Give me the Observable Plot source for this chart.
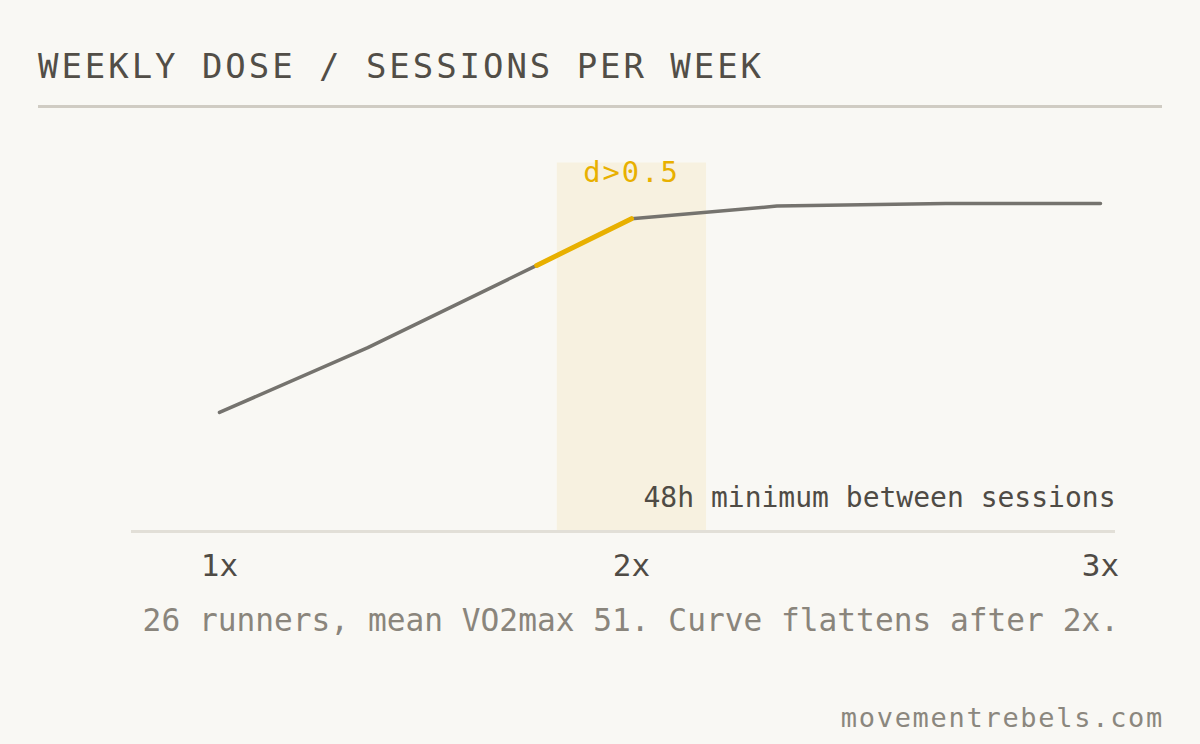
<!DOCTYPE html>
<html>
<head>
<meta charset="utf-8">
<script src="https://cdn.jsdelivr.net/npm/d3@7"></script>
<script src="https://cdn.jsdelivr.net/npm/@observablehq/plot@0.6"></script>
<style>
  html, body { margin: 0; padding: 0; background: #f9f8f4; }
  #root { position: relative; width: 1200px; height: 744px; background: #f9f8f4; font-family: "DejaVu Sans Mono", monospace; overflow: hidden; }
  .title { position: absolute; left: 38px; top: 49px; font-size: 34px; line-height: 34px; letter-spacing: 2.95px; color: #524e47; white-space: nowrap; }
  .rule { position: absolute; left: 38px; top: 105px; width: 1124px; height: 3px; background: #d0ccc3; }
  #chart { position: absolute; left: 0; top: 120px; }
  .caption { position: absolute; right: 81px; top: 605px; font-size: 31.2px; line-height: 31px; color: #8a857c; white-space: nowrap; }
  .footer { position: absolute; right: 36px; top: 704px; font-size: 27px; line-height: 27px; letter-spacing: 1.7px; color: #8b877e; white-space: nowrap; }
</style>
</head>
<body>
<div id="root">
  <div class="title" id="title"></div>
  <div class="rule"></div>
  <div id="chart"></div>
  <div class="caption" id="caption"></div>
  <div class="footer" id="footer"></div>
</div>
<script>
// ---- data ----
const titleText = "WEEKLY DOSE / SESSIONS PER WEEK";
const captionText = "26 runners, mean VO2max 51. Curve flattens after 2x.";
const footerText = "movementrebels.com";

const sessions = [1, 1.36, 1.77, 2, 2.31, 2.67, 3];
const effect   = [3.23, 4.99, 7.22, 8.49, 8.83, 8.90, 8.90];

const highlightFrom = 1.77;
const highlightTo = 2;
const bandSessions = [1.82, 2.16];
const bandLabel = "d>0.5";
const bandLabelAt = 2;

const noteLabel = "48h minimum between sessions";

const tickValues = [1, 2, 3];
const tickLabels = ["1x", "2x", "3x"];

// ---- build ----
document.getElementById("title").textContent = titleText;
document.getElementById("caption").textContent = captionText;
document.getElementById("footer").textContent = footerText;

const points = sessions.map((s, i) => ({s, e: effect[i]}));
const highlight = points.filter(d => d.s >= highlightFrom && d.s <= highlightTo);

const chart = Plot.plot({
  width: 1200,
  height: 480,
  marginLeft: 131,
  marginRight: 85,
  marginTop: 42.5,
  marginBottom: 69,
  style: { fontFamily: "DejaVu Sans Mono, monospace", background: "transparent", color: "#4f4b45", overflow: "visible" },
  x: { type: "linear", domain: [1, 2, 3], range: [219, 631, 1100] },
  y: { domain: [0, 10], axis: null },
  marks: [
    Plot.rect([bandSessions], { x1: d => d[0], x2: d => d[1], fill: "#f7f1e0" }),
    Plot.ruleY([0], { stroke: "#e2dfd7", strokeWidth: 3 }),
    Plot.line(points, { x: "s", y: "e", stroke: "#75736e", strokeWidth: 3.5 }),
    Plot.line(highlight, { x: "s", y: "e", stroke: "#e8b000", strokeWidth: 5 }),
    Plot.text([bandLabel], { x: () => bandLabelAt, text: d => d, frameAnchor: "top", lineAnchor: "bottom", dy: 19, fill: "#e8b000", fontSize: 28.8, className: "bandlabel" }),
    Plot.text([noteLabel], { text: d => d, frameAnchor: "bottom-right", lineAnchor: "bottom", dy: -25, fill: "#4f4b45", fontSize: 28 }),
    Plot.axisX({ ticks: tickValues, tickFormat: d => tickLabels[tickValues.indexOf(d)], tickSize: 0, tickPadding: 22, fontSize: 31, label: null, fill: "#4f4b45" })
  ]
});
d3.select(chart).selectAll(".bandlabel text").style("letter-spacing", "2px");
document.getElementById("chart").appendChild(chart);
</script>
</body>
</html>
